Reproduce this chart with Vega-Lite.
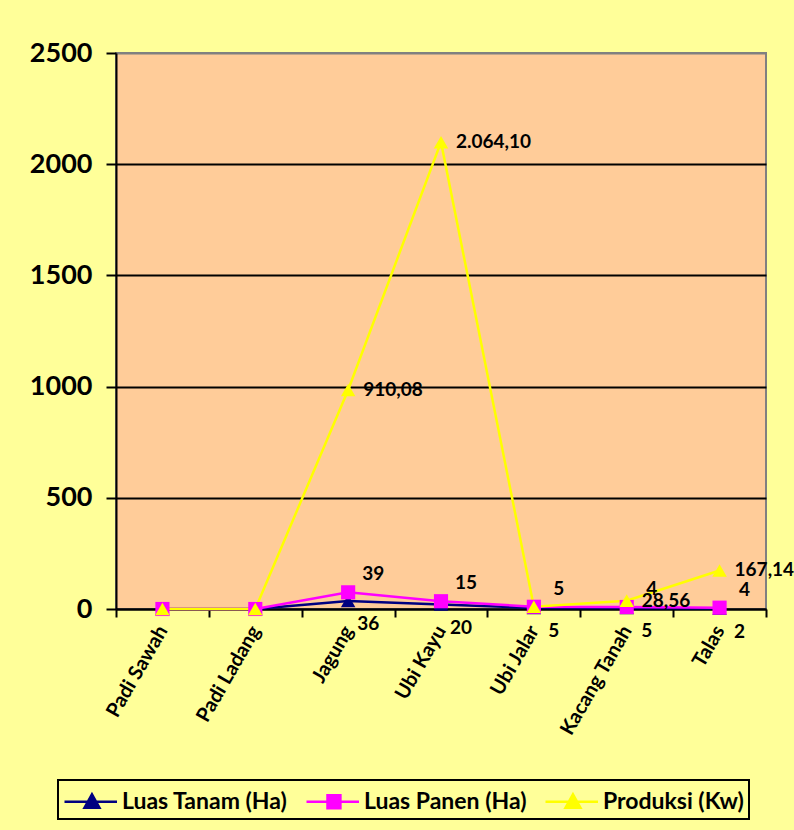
{
  "$schema": "https://vega.github.io/schema/vega-lite/v6.json",
  "autosize": {"type": "none"},
  "padding": {"left": 116, "top": 53, "right": 28, "bottom": 221},
  "width": 650,
  "height": 556,
  "background": "#FFFF99",
  "data": {
    "values": [
      {"cat": "Padi Sawah", "series": "Luas Tanam (Ha)", "s": 1, "v": 0, "label": ""},
      {"cat": "Padi Ladang", "series": "Luas Tanam (Ha)", "s": 1, "v": 0, "label": ""},
      {"cat": "Jagung", "series": "Luas Tanam (Ha)", "s": 1, "v": 36, "label": "36"},
      {"cat": "Ubi Kayu", "series": "Luas Tanam (Ha)", "s": 1, "v": 20, "label": "20"},
      {"cat": "Ubi Jalar", "series": "Luas Tanam (Ha)", "s": 1, "v": 5, "label": "5"},
      {"cat": "Kacang Tanah", "series": "Luas Tanam (Ha)", "s": 1, "v": 5, "label": "5"},
      {"cat": "Talas", "series": "Luas Tanam (Ha)", "s": 1, "v": 2, "label": "2"},
      {"cat": "Padi Sawah", "series": "Luas Panen (Ha)", "s": 2, "v": 0, "label": ""},
      {"cat": "Padi Ladang", "series": "Luas Panen (Ha)", "s": 2, "v": 0, "label": ""},
      {"cat": "Jagung", "series": "Luas Panen (Ha)", "s": 2, "v": 39, "label": "39"},
      {"cat": "Ubi Kayu", "series": "Luas Panen (Ha)", "s": 2, "v": 15, "label": "15"},
      {"cat": "Ubi Jalar", "series": "Luas Panen (Ha)", "s": 2, "v": 5, "label": "5"},
      {"cat": "Kacang Tanah", "series": "Luas Panen (Ha)", "s": 2, "v": 4, "label": "4"},
      {"cat": "Talas", "series": "Luas Panen (Ha)", "s": 2, "v": 4, "label": "4"},
      {"cat": "Padi Sawah", "series": "Produksi (Kw)", "s": 3, "v": 0, "label": ""},
      {"cat": "Padi Ladang", "series": "Produksi (Kw)", "s": 3, "v": 0, "label": ""},
      {"cat": "Jagung", "series": "Produksi (Kw)", "s": 3, "v": 910.08, "label": "910,08"},
      {"cat": "Ubi Kayu", "series": "Produksi (Kw)", "s": 3, "v": 2064.10, "label": "2.064,10"},
      {"cat": "Ubi Jalar", "series": "Produksi (Kw)", "s": 3, "v": 0, "label": ""},
      {"cat": "Kacang Tanah", "series": "Produksi (Kw)", "s": 3, "v": 28.56, "label": "28,56"},
      {"cat": "Talas", "series": "Produksi (Kw)", "s": 3, "v": 167.14, "label": "167,14"}
    ]
  },
  "transform": [
    {"stack": "v", "groupby": ["cat"], "sort": [{"field": "s", "order": "ascending"}], "as": ["y0", "y1"]}
  ],
  "encoding": {
    "x": {
      "field": "cat", "type": "nominal", "sort": null,
      "scale": {"type": "band", "paddingInner": 0, "paddingOuter": 0},
      "axis": {
        "title": null, "labelAngle": -60, "labelAlign": "right", "labelBaseline": "middle",
        "labelFont": "Lato", "labelFontWeight": "bold", "labelFontSize": 20, "labelColor": "black",
        "labelPadding": 10, "tickBand": "extent", "tickSize": 8, "tickColor": "black", "tickWidth": 2,
        "domainColor": "black", "domainWidth": 2, "grid": false
      }
    },
    "y": {
      "field": "y1", "type": "quantitative",
      "scale": {"domain": [0, 2500], "nice": false},
      "axis": {
        "title": null, "values": [0, 500, 1000, 1500, 2000, 2500], "format": "d",
        "labelFont": "Lato", "labelFontWeight": "bold", "labelFontSize": 27, "labelColor": "black",
        "labelPadding": 14, "tickSize": 10, "tickColor": "black", "tickWidth": 2,
        "domainColor": "black", "domainWidth": 2,
        "grid": true, "gridWidth": 2,
        "gridColor": {"condition": {"test": "datum.value == 2500", "value": "#808080"}, "value": "black"}
      }
    },
    "color": {
      "field": "series", "type": "nominal",
      "scale": {
        "domain": ["Luas Tanam (Ha)", "Luas Panen (Ha)", "Produksi (Kw)"],
        "range": ["#000080", "#FF00FF", "#FFFF00"]
      },
      "legend": {
        "title": null, "orient": "none", "legendX": -58, "legendY": 727, "direction": "horizontal",
        "fillColor": "#FFFF99", "strokeColor": "black", "padding": 5,
        "labelFont": "Lato", "labelFontWeight": "bold", "labelFontSize": 23, "labelColor": "black",
        "labelOffset": 26, "columnPadding": 13, "symbolSize": 900, "symbolStrokeWidth": 2.5,
        "labelLimit": 300,
        "encode": {
          "legend": {"update": {"strokeWidth": {"value": 2}}},
          "symbols": {"update": {
            "shape": {"signal": "datum.value === 'Luas Panen (Ha)' ? 'M-1,0H2.5M0.4,-0.43H1.26V0.43H0.4Z' : 'M-1,0H2.5M0.33,0.4L0.83,-0.5L1.33,0.4Z'"},
            "fill": {"scale": "color", "field": "value"},
            "stroke": {"scale": "color", "field": "value"},
            "strokeWidth": {"value": 2.5},
            "opacity": {"value": 1}
          }}
        }
      }
    }
  },
  "layer": [
    {
      "mark": {"type": "line", "strokeWidth": 2.5},
      "encoding": {"detail": {"field": "series"}}
    },
    {
      "transform": [{"filter": "datum.s == 1"}],
      "mark": {"type": "point", "filled": true, "opacity": 1, "size": 210, "shape": "triangle-up"}
    },
    {
      "transform": [{"filter": "datum.s == 2"}],
      "mark": {"type": "point", "filled": true, "opacity": 1, "size": 200, "shape": "square"}
    },
    {
      "transform": [{"filter": "datum.s == 3"}],
      "mark": {"type": "point", "filled": true, "opacity": 1, "size": 210, "shape": "triangle-up"}
    },
    {
      "transform": [{"filter": "datum.s == 1"}],
      "mark": {"type": "text", "font": "Lato", "fontWeight": "bold", "fontSize": 19, "baseline": "middle", "dx": 20, "dy": 23},
      "encoding": {"text": {"field": "label"}, "color": {"value": "black"}}
    },
    {
      "transform": [{"filter": "datum.s == 2"}],
      "mark": {"type": "text", "font": "Lato", "fontWeight": "bold", "fontSize": 19, "baseline": "middle", "dx": 25, "dy": -18},
      "encoding": {"text": {"field": "label"}, "color": {"value": "black"}}
    },
    {
      "transform": [{"filter": "datum.s == 3"}],
      "mark": {"type": "text", "font": "Lato", "fontWeight": "bold", "fontSize": 19, "baseline": "middle", "align": "left", "dx": 15, "dy": 0},
      "encoding": {"text": {"field": "label"}, "color": {"value": "black"}}
    }
  ],
  "config": {
    "view": {"fill": "#FFCC99", "stroke": "#808080", "strokeWidth": 2}
  }
}
